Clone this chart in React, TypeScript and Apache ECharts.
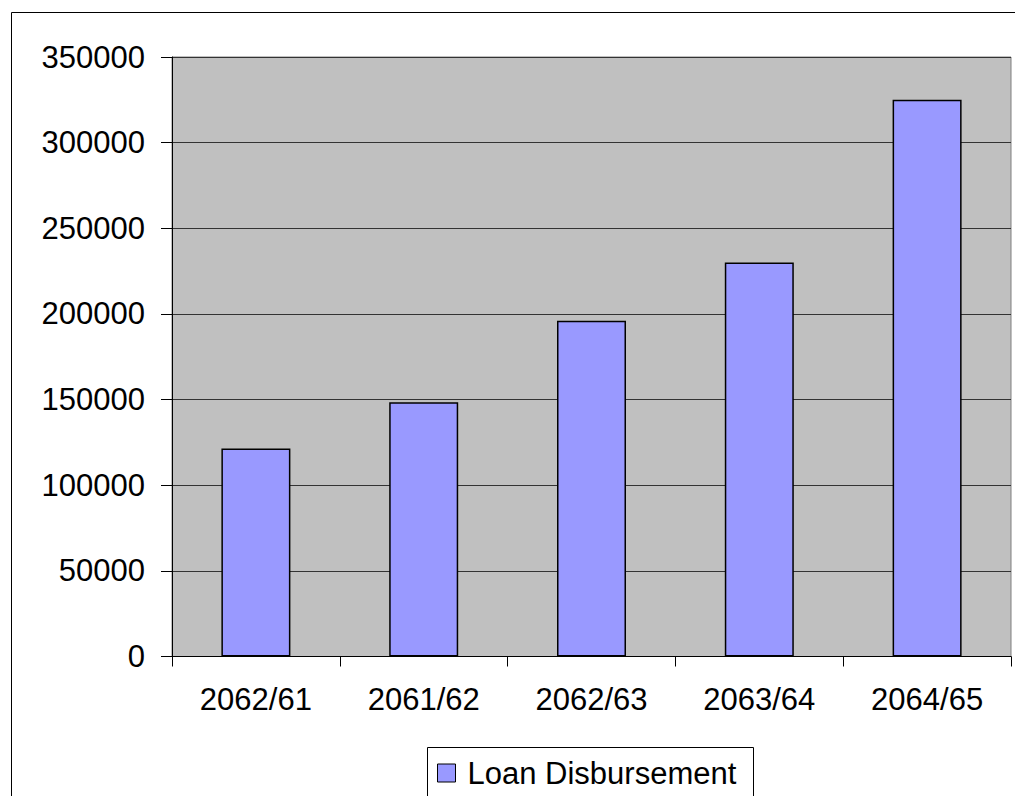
import React, { useEffect, useRef } from "react";
import * as echarts from "echarts";

const categories = ["2062/61", "2061/62", "2062/63", "2063/64", "2064/65"];
const loanDisbursement = [121500, 148500, 196000, 230000, 325000];
const seriesName = "Loan Disbursement";

const FONT = "'Liberation Sans', Arial, sans-serif";

export default function App() {
  const ref = useRef<HTMLDivElement>(null);
  useEffect(() => {
    if (!ref.current) return;
    const chart = echarts.init(ref.current, null, { renderer: "svg" });
    chart.setOption({
      animation: false,
      backgroundColor: "#ffffff",
      textStyle: { fontFamily: FONT },
      grid: {
        left: 172,
        top: 57,
        right: 4,
        bottom: 139.5,
        show: true,
        backgroundColor: "#C0C0C0",
        borderColor: "#808080",
        borderWidth: 1,
      },
      xAxis: {
        type: "category",
        data: categories,
        axisLine: { show: true, lineStyle: { color: "#000", width: 1 } },
        axisTick: { show: true, length: 10, lineStyle: { color: "#000" } },
        axisLabel: {
          color: "#000",
          fontSize: 31,
          fontFamily: FONT,
          margin: 27,
        },
        splitLine: { show: false },
      },
      yAxis: {
        type: "value",
        min: 0,
        max: 350000,
        interval: 50000,
        axisLine: { show: true, lineStyle: { color: "#000", width: 1 } },
        axisTick: { show: true, length: 11, lineStyle: { color: "#000" } },
        axisLabel: {
          color: "#000",
          fontSize: 31,
          fontFamily: FONT,
          margin: 27,
          formatter: (v: number) => String(v),
        },
        splitLine: { show: true, lineStyle: { color: "#333", width: 1 } },
      },
      legend: {
        show: true,
        left: 437,
        top: 755,
        padding: 0,
        icon: "rect",
        itemWidth: 18,
        itemHeight: 18,
        itemStyle: { borderColor: "#000", borderWidth: 1 },
        textStyle: {
          fontSize: 31,
          color: "#000",
          fontFamily: FONT,
          lineHeight: 36,
          padding: [0, 0, 0, 7],
        },
        data: [seriesName],
      },
      series: [
        {
          name: seriesName,
          type: "bar",
          data: loanDisbursement,
          barWidth: 69,
          itemStyle: { color: "#9999FF", borderColor: "#000", borderWidth: 1.5 },
        },
      ],
      graphic: [
        {
          type: "rect",
          shape: { x: 11.5, y: 12.5, width: 1100, height: 1000 },
          style: { fill: "none", stroke: "#000", lineWidth: 1 },
          silent: true,
          z: 100,
        },
        {
          type: "rect",
          shape: { x: 427.5, y: 747.5, width: 326, height: 100 },
          style: { fill: "none", stroke: "#000", lineWidth: 1 },
          silent: true,
          z: 100,
        },
      ],
    });
    return () => chart.dispose();
  }, []);
  return (
    <div
      ref={ref}
      style={{ position: "absolute", left: 0, top: 0, width: 1015, height: 796 }}
    />
  );
}
